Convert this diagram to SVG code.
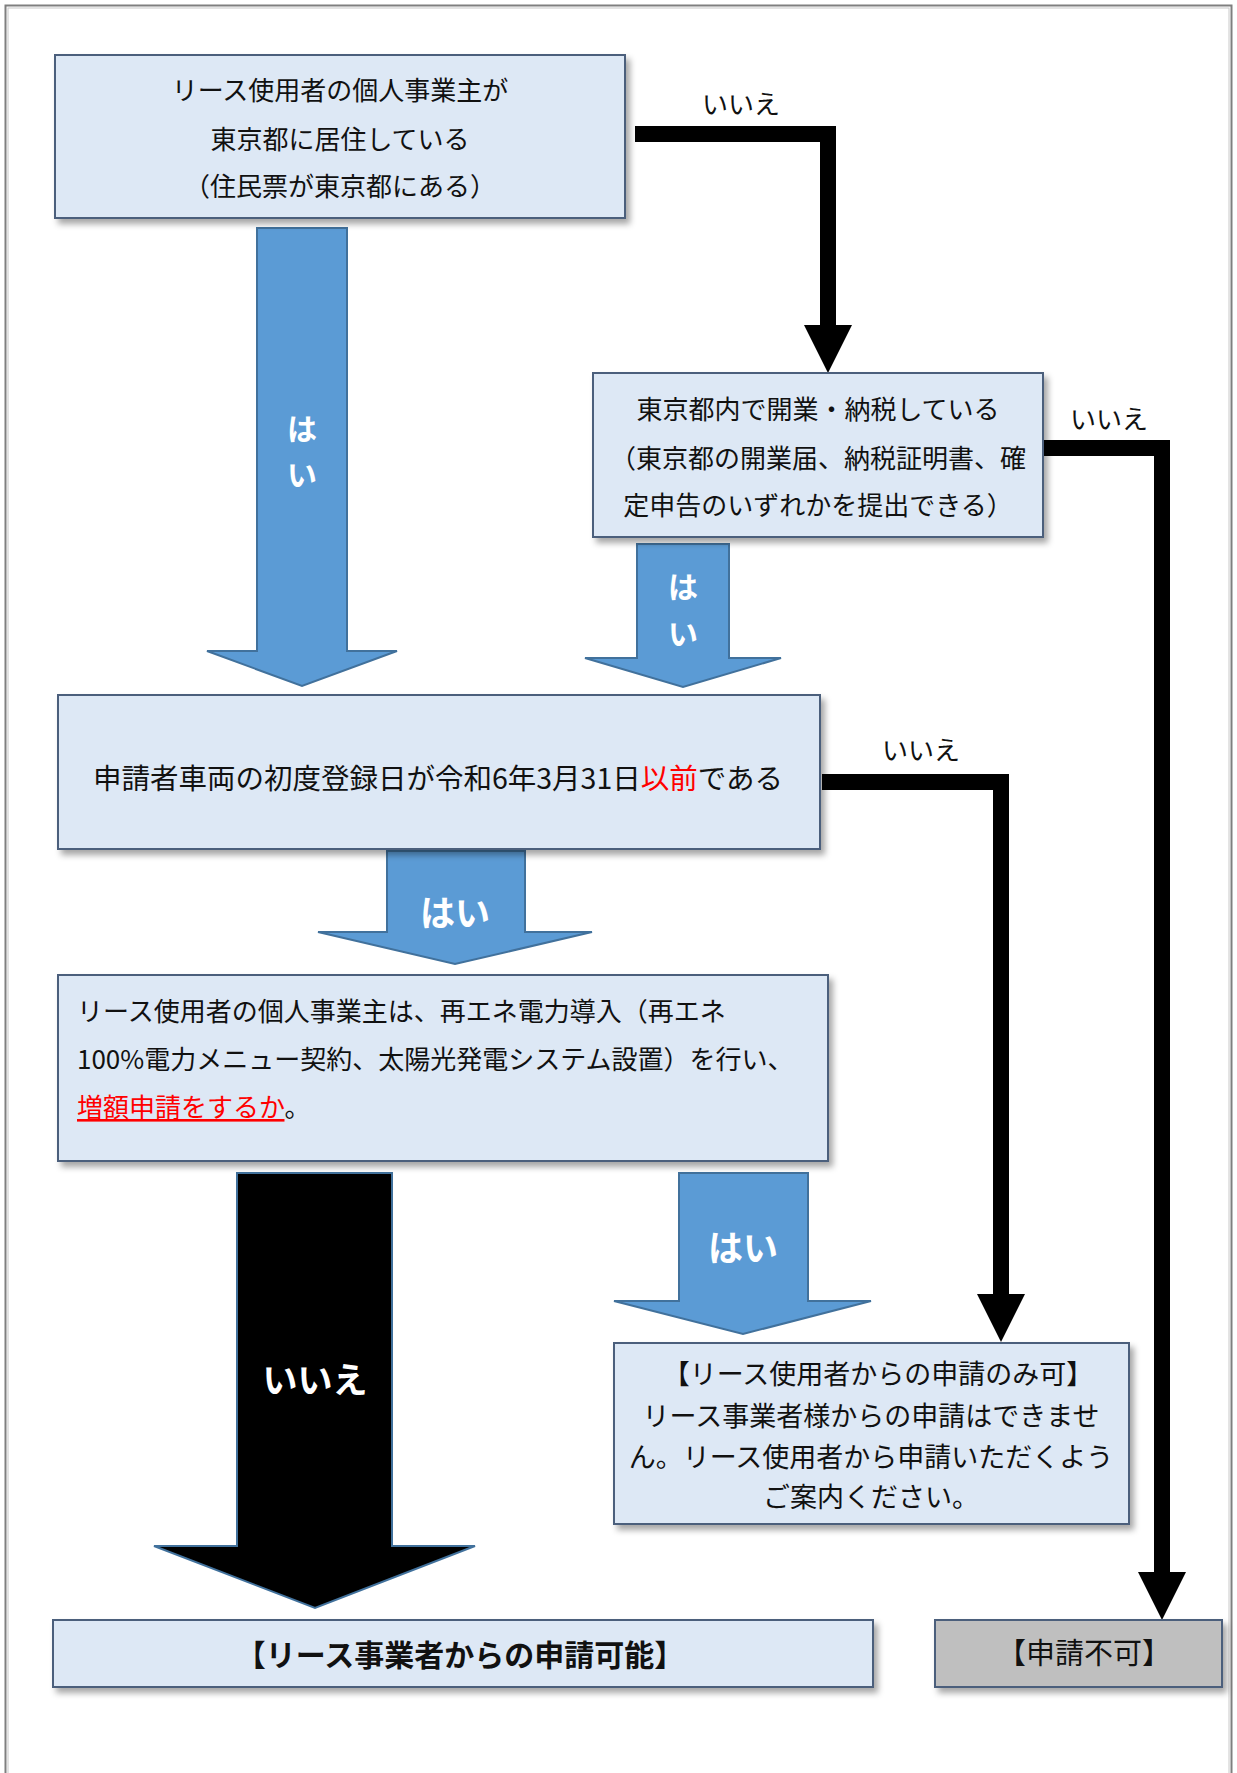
<svg xmlns="http://www.w3.org/2000/svg" width="1237" height="1773" viewBox="0 0 1237 1773">
<defs>
<filter id="sh" x="-5%" y="-10%" width="115%" height="130%">
<feDropShadow dx="4" dy="5" stdDeviation="3" flood-color="#000" flood-opacity="0.35"/>
</filter>
<marker id="ah" markerUnits="userSpaceOnUse" viewBox="0 0 48 48" refX="0" refY="24" markerWidth="48" markerHeight="48" orient="auto">
<path d="M0,0 L48,24 L0,48 z" fill="#000"/>
</marker>
</defs>
<style>
text{font-family:"Noto Sans CJK JP","Noto Sans CJK SC",sans-serif;fill:#111;dominant-baseline:central}
.box{fill:#dde8f5;stroke:#4c5f7c;stroke-width:2;filter:url(#sh)}
.gray{fill:#bfbfbf;stroke:#4c5f7c;stroke-width:2;filter:url(#sh)}
.barrow{fill:#5b9bd5;stroke:#41719c;stroke-width:2}
.karrow{fill:#000;stroke:#41719c;stroke-width:2}
.conn{fill:none;stroke:#000;stroke-width:16;stroke-linejoin:miter;marker-end:url(#ah)}
.t26{font-size:26px}
.t27{font-size:27px}
.t28{font-size:28.5px}
.lbl{font-size:26px;text-anchor:middle}
.w{fill:#fff;font-weight:bold;text-anchor:middle}
.red{fill:#ff0000}
.c{text-anchor:middle}
</style>
<rect x="5.5" y="5.5" width="1226" height="1800" fill="#fff" stroke="#7f7f7f" stroke-width="2"/>
<rect x="8" y="8" width="1221" height="1800" fill="none" stroke="#c8c8c8" stroke-width="1"/>

<g id="connectors">
<path class="conn" d="M635,134 H828 V325"/>
<path class="conn" d="M1043,448 H1162 V1572"/>
<path class="conn" d="M822,782 H1001 V1294"/>
<text class="lbl" x="741" y="102">いいえ</text>
<text class="lbl" x="1109" y="417">いいえ</text>
<text class="lbl" x="921" y="748">いいえ</text>
<g id="arrow-yes1">
<polygon class="barrow" points="257,228 347,228 347,651 397,651 302,686 207,651 257,651"/>
<text class="w" x="302" y="427" font-size="30">は</text>
<text class="w" x="302" y="473" font-size="30">い</text>
</g>
<g id="arrow-yes2">
<polygon class="barrow" points="637,544 729,544 729,658 781,658 683,687 585,658 637,658"/>
<text class="w" x="683" y="585" font-size="30">は</text>
<text class="w" x="683" y="632" font-size="30">い</text>
</g>
<g id="arrow-yes3">
<polygon class="barrow" points="387,851 525,851 525,932 592,932 455,964 318,932 387,932"/>
<text class="w" x="455" y="910" font-size="35">はい</text>
</g>
<g id="arrow-yes4">
<polygon class="barrow" points="679,1173 808,1173 808,1301 871,1301 743,1334 614,1301 679,1301"/>
<text class="w" x="743" y="1245" font-size="35">はい</text>
</g>
<g id="arrow-no4">
<polygon class="karrow" points="237,1173 392,1173 392,1546 475,1546 315,1608 154,1546 237,1546"/>
<text class="w" x="315" y="1377" font-size="35">いいえ</text>
</g>
</g>

<g id="node-q1">
<rect class="box" x="55" y="55" width="570" height="163"/>
<text class="t26 c" x="340" y="88">リース使用者の個人事業主が</text>
<text class="t26 c" x="340" y="137">東京都に居住している</text>
<text class="t26 c" x="340" y="184">（住民票が東京都にある）</text>
</g>

<g id="node-q2">
<rect class="box" x="593" y="373" width="450" height="164"/>
<text class="t26 c" x="818" y="407">東京都内で開業・納税している</text>
<text class="t26 c" x="818" y="456">（東京都の開業届、納税証明書、確</text>
<text class="t26 c" x="818" y="503">定申告のいずれかを提出できる）</text>
</g>

<g id="node-q3">
<rect class="box" x="58" y="695" width="762" height="154"/>
<text class="t28 c" x="438" y="776">申請者車両の初度登録日が令和6年3月31日<tspan class="red">以前</tspan>である</text>
</g>

<g id="node-q4">
<rect class="box" x="58" y="975" width="770" height="186"/>
<text class="t26" x="77" y="1009">リース使用者の個人事業主は、再エネ電力導入（再エネ</text>
<text class="t26" x="77" y="1057">100%電力メニュー契約、太陽光発電システム設置）を行い、</text>
<text class="t26" x="77" y="1105"><tspan class="red" text-decoration="underline">増額申請をするか</tspan>。</text>
</g>

<g id="node-user-only">
<rect class="box" x="614" y="1343" width="515" height="181"/>
<text class="t27 c" x="878" y="1372">【リース使用者からの申請のみ可】</text>
<text class="t27 c" x="871" y="1414">リース事業者様からの申請はできませ</text>
<text class="t27 c" x="871" y="1455">ん。リース使用者から申請いただくよう</text>
<text class="t27 c" x="871" y="1495">ご案内ください。</text>
</g>

<g id="node-lessor-ok">
<rect class="box" x="53" y="1620" width="820" height="67"/>
<text class="c" x="460" y="1653" font-size="30" font-weight="bold">【リース事業者からの申請可能】</text>
</g>

<g id="node-ng">
<rect class="gray" x="935" y="1620" width="287" height="67"/>
<text class="c" x="1084" y="1651" font-size="29">【申請不可】</text>
</g>
</svg>
